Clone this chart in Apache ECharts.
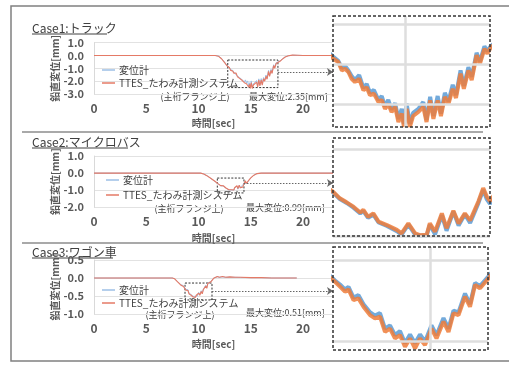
<!DOCTYPE html>
<html><head><meta charset="utf-8">
<script src="https://cdn.jsdelivr.net/npm/echarts@6/dist/echarts.min.js"></script>
<style>html,body{margin:0;padding:0;background:#fff}#c{width:509px;height:365px}</style>
</head><body><div id="c"></div>
<script>
// ---------- data ----------
const caseTitles = ['Case1:トラック', 'Case2:マイクロバス', 'Case3:ワゴン車'];
const seriesNames = ['変位計', 'TTES_たわみ計測システム'];
const maxDisp = ['2.35', '0.99', '0.51'];
const xTicks = [0, 5, 10, 15, 20];
const xEnd = 22.87;
const yTicks1 = [-3, -2, -1, 0, 1];
const yTicks2 = [-2, -1, 0, 1];
const yTicks3 = [-1, -0.5, 0, 0.5];

const case1Time = [0, 11.6, 11.9, 12.2, 12.5, 12.7, 12.81, 12.96, 13.07, 13.17, 13.27, 13.37, 13.47, 13.6, 13.73, 13.83, 13.93, 14.05, 14.19, 14.29, 14.39, 14.49, 14.59, 14.7, 14.8, 14.9, 14.97, 15.05, 15.15, 15.25, 15.41, 15.56, 15.66, 15.77, 15.87, 16.0, 16.1, 16.22, 16.33, 16.46, 16.56, 16.7, 16.8, 16.94, 17.04, 17.19, 17.29, 17.43, 17.52, 17.6, 17.8, 18.0, 18.3, 18.6, 19.0, 19.5, 20.0, 22.87];
const case1TTES = [0, 0, -0.05, -0.25, -0.55, -0.78, -0.87, -0.95, -1.16, -1.12, -1.2, -1.37, -1.45, -1.37, -1.66, -1.58, -1.78, -1.74, -1.95, -1.9, -2.12, -2.0, -2.2, -2.07, -2.45, -2.24, -2.57, -2.12, -2.57, -2.3, -2.2, -2.07, -2.45, -1.91, -2.37, -1.91, -2.3, -1.82, -2.0, -1.62, -1.85, -1.24, -1.62, -1.16, -1.4, -0.78, -1.0, -0.62, -0.74, -0.62, -0.45, -0.3, -0.12, -0.02, 0.03, 0.02, 0, 0];
const case1Disp = [0, 0, -0.04, -0.22, -0.52, -0.74, -0.82, -0.92, -1.1, -1.05, -1.16, -1.3, -1.4, -1.28, -1.6, -1.5, -1.72, -1.65, -1.9, -1.8, -2.06, -1.9, -2.14, -1.98, -2.38, -2.12, -2.5, -1.98, -2.5, -2.22, -2.12, -1.95, -2.4, -1.82, -2.3, -1.8, -2.24, -1.72, -1.94, -1.52, -1.78, -1.16, -1.55, -1.08, -1.32, -0.72, -0.94, -0.56, -0.68, -0.58, -0.42, -0.28, -0.1, -0.02, 0.02, 0.01, 0, 0];

const case2Time = [0, 10.2, 10.5, 10.8, 11.2, 11.6, 11.73, 11.86, 11.99, 12.12, 12.18, 12.27, 12.37, 12.47, 12.63, 12.82, 12.91, 13.04, 13.17, 13.26, 13.39, 13.45, 13.55, 13.68, 13.77, 13.9, 14.0, 14.12, 14.22, 14.38, 14.47, 14.54, 14.6, 14.8, 15.0, 15.3, 15.6, 16.0, 22.87];
const case2TTES = [0, 0, -0.05, -0.15, -0.32, -0.49, -0.567, -0.613, -0.663, -0.73, -0.70, -0.78, -0.74, -0.835, -0.874, -0.93, -0.97, -0.855, -0.97, -0.99, -0.985, -0.855, -0.95, -0.74, -0.91, -0.71, -0.855, -0.74, -0.82, -0.6, -0.45, -0.55, -0.6, -0.42, -0.28, -0.12, -0.03, 0, 0];
const case2Disp = [0, 0, -0.05, -0.15, -0.32, -0.5, -0.575, -0.62, -0.675, -0.74, -0.715, -0.79, -0.755, -0.845, -0.885, -0.945, -0.985, -0.87, -0.985, -0.995, -0.995, -0.87, -0.98, -0.76, -0.94, -0.72, -0.88, -0.75, -0.85, -0.62, -0.47, -0.58, -0.63, -0.44, -0.29, -0.12, -0.03, 0, 0];

const case3Time = [0, 7.5, 7.7, 7.85, 8.0, 8.09, 8.19, 8.29, 8.36, 8.46, 8.56, 8.66, 8.79, 8.89, 8.99, 9.09, 9.19, 9.29, 9.39, 9.49, 9.59, 9.69, 9.79, 9.89, 10.02, 10.12, 10.26, 10.36, 10.46, 10.56, 10.69, 10.79, 10.89, 10.99, 11.16, 11.3, 11.45, 11.6, 11.8, 12.0, 12.3, 12.6, 13.0, 13.5, 14.0, 15.0, 16.0, 17.0, 19.4];
const case3TTES = [0, 0, -0.02, -0.06, -0.11, -0.133, -0.163, -0.194, -0.18, -0.245, -0.235, -0.286, -0.337, -0.357, -0.347, -0.44, -0.42, -0.48, -0.46, -0.53, -0.48, -0.54, -0.48, -0.52, -0.42, -0.48, -0.377, -0.44, -0.326, -0.337, -0.224, -0.286, -0.153, -0.173, -0.112, -0.06, -0.01, 0.03, 0.04, 0.02, 0.04, 0.02, 0.03, 0.02, 0.02, 0.01, 0.01, 0, 0];
const case3Disp = [0, 0, -0.02, -0.055, -0.1, -0.125, -0.15, -0.18, -0.165, -0.23, -0.215, -0.27, -0.32, -0.34, -0.325, -0.42, -0.4, -0.46, -0.435, -0.51, -0.455, -0.51, -0.455, -0.5, -0.4, -0.46, -0.355, -0.42, -0.31, -0.32, -0.205, -0.27, -0.14, -0.16, -0.1, -0.05, -0.005, 0.03, 0.035, 0.02, 0.03, 0.02, 0.02, 0.02, 0.015, 0.01, 0.01, 0, 0];

// highlighted ranges [tStart, tEnd, vTop, vBottom] and arrow level
const boxes = [[12.8, 17.6, -0.35, -2.5], [11.8, 14.35, -0.29, -1.16], [8.71, 11.29, -0.14, -0.61]];
const arrowLevel = [-1.29, -0.58, -0.36];
// zoom views: [tMin, tMax, vMin, vMax]
const zoomRanges = [[12.8, 17.6, -2.575, 0.2], [11.6, 14.6, -1.0, 0.126], [8.05, 11.15, -0.5508, 0.0796]];
const zoomGridY = [[0, -1, -2], [0, -1], [0, -0.5]];
const zoomGridX = [15, null, 10];

// ---------- layout ----------
const mainGrids = [
  {left: 94, top: 42.7, width: 239, height: 51.3},
  {left: 94, top: 156, width: 239, height: 51.3},
  {left: 94, top: 260, width: 239, height: 54}
];
const zoomGrids = [
  {left: 333, top: 16, width: 157, height: 111},
  {left: 333, top: 138, width: 157, height: 98},
  {left: 333, top: 247, width: 155, height: 103}
];
const font = '"Noto Sans CJK JP", "Noto Sans", sans-serif';
const txt = '#595959';
const RED = '#e57a66', BLUE = '#9dbfe6', ZORANGE = '#ee7d3a', ZBLUE = '#5b9bd5';

const cases = [
  {time: case1Time, ttes: case1TTES, disp: case1Disp, ticks: yTicks1},
  {time: case2Time, ttes: case2TTES, disp: case2Disp, ticks: yTicks2},
  {time: case3Time, ttes: case3TTES, disp: case3Disp, ticks: yTicks3}
];
const zip = (t, v) => t.map((x, i) => [x, v[i]]);

const grid = [], xAxis = [], yAxis = [], series = [], legend = [];
const legendPos = [{left: 102, top: 64, gap: 1}, {left: 106, top: 174, gap: 3}, {left: 102, top: 284, gap: 1}];
const nameGapX = [24, 26, 25];

cases.forEach((c, i) => {
  grid.push(mainGrids[i]);
  const tickStep = c.ticks[1] - c.ticks[0];
  xAxis.push({
    gridIndex: i, type: 'value', min: xTicks[0], max: xEnd, interval: xTicks[1] - xTicks[0],
    axisLine: {show: false}, axisTick: {show: false}, splitLine: {show: false},
    axisLabel: {showMaxLabel: false, margin: 8, color: txt, fontSize: 12, fontWeight: 'bold', fontFamily: font,
      formatter: v => (xTicks.indexOf(v) >= 0 ? String(v) : '')},
    name: '時間[sec]', nameLocation: 'middle', nameGap: nameGapX[i], nameMoveOverlap: false,
    nameTextStyle: {color: txt, fontSize: 10, fontWeight: 'bold', fontFamily: font}
  });
  yAxis.push({
    gridIndex: i, type: 'value', min: c.ticks[0], max: c.ticks[c.ticks.length - 1], interval: tickStep,
    axisLine: {show: true, lineStyle: {color: '#d9d9d9'}}, axisTick: {show: false},
    splitLine: {show: true, lineStyle: {color: '#e2e2e2'}},
    axisLabel: {margin: 10, color: txt, fontSize: 11, fontWeight: 'bold', fontFamily: font, formatter: v => v.toFixed(1)},
    name: '鉛直変位[mm]', nameLocation: 'middle', nameGap: 34, nameRotate: 90, nameMoveOverlap: false,
    nameTextStyle: {color: txt, fontSize: 10, fontWeight: 'bold', fontFamily: font}
  });
});
cases.forEach((c, i) => {
  grid.push(zoomGrids[i]);
  const z = zoomRanges[i];
  xAxis.push({gridIndex: 3 + i, type: 'value', min: z[0], max: z[1], show: false});
  yAxis.push({gridIndex: 3 + i, type: 'value', min: z[2], max: z[3], show: false});
});

cases.forEach((c, i) => {
  series.push({name: seriesNames[0], type: 'line', xAxisIndex: i, yAxisIndex: i, data: zip(c.time, c.disp),
    showSymbol: false, symbol: 'none', color: BLUE, lineStyle: {width: 1, color: BLUE}, z: 2});
  series.push({name: seriesNames[1], type: 'line', xAxisIndex: i, yAxisIndex: i, data: zip(c.time, c.ttes),
    showSymbol: false, symbol: 'none', color: RED, lineStyle: {width: 1.1, color: RED}, z: 3});
  const b = boxes[i];
  series.push({type: 'line', xAxisIndex: i, yAxisIndex: i, data: [[b[0], b[2]]], symbol: 'none', lineStyle: {width: 0}, z: 6,
    markArea: {silent: true, itemStyle: {color: 'rgba(0,0,0,0)', borderColor: '#333', borderWidth: 1, borderType: [2, 1.5]},
      data: [[{coord: [b[0], b[2]]}, {coord: [b[1], b[3]]}]]},
    markLine: {silent: true, symbol: ['none', 'arrow'], symbolSize: 6, label: {show: false},
      lineStyle: {type: [1.5, 1.5], color: '#666', width: 1},
      data: [[{coord: [b[1], arrowLevel[i]]}, {coord: [xEnd, arrowLevel[i]]}]]}
  });
  // zoom view
  const gl = zoomGridY[i].map(v => ({yAxis: v}));
  if (zoomGridX[i] !== null) gl.push({xAxis: zoomGridX[i]});
  const z = zoomRanges[i];
  series.push({type: 'line', xAxisIndex: 3 + i, yAxisIndex: 3 + i, data: [[z[0], z[2]]], symbol: 'none', lineStyle: {width: 0}, z: 1,
    markLine: {silent: true, symbol: 'none', label: {show: false}, lineStyle: {type: 'solid', color: '#dedede', width: 2.5}, data: gl}});
  series.push({type: 'line', xAxisIndex: 3 + i, yAxisIndex: 3 + i, data: zip(c.time, c.disp),
    showSymbol: false, symbol: 'none', lineStyle: {width: 4, color: ZBLUE, opacity: 0.85}, z: 2});
  series.push({type: 'line', xAxisIndex: 3 + i, yAxisIndex: 3 + i, data: zip(c.time, c.ttes),
    showSymbol: false, symbol: 'none', lineStyle: {width: 4, color: ZORANGE, opacity: 0.85}, z: 3});

  const lp = legendPos[i];
  legend.push({data: seriesNames, left: lp.left, top: lp.top, orient: 'vertical', icon: 'rect', itemWidth: 13, itemHeight: 1.5,
    itemGap: lp.gap, selectedMode: false, padding: 0,
    textStyle: {fontSize: 10, color: '#404040', fontFamily: font, lineHeight: 12, padding: [0, 0, 0, -1]}});
});

// ---------- decorations ----------
const titleY = [28, 142, 252];
const titleW = [75, 96, 81];
const noteX = [195, 189, 180], noteY = [97, 209, 315];
const maxX = [249, 246, 246], maxY = [97, 208, 313];
const graphic = [
  {type: 'rect', shape: {x: 11, y: 6, width: 520, height: 355}, style: {fill: 'none', stroke: '#808080', lineWidth: 1.5}, z: 0},
  {type: 'line', shape: {x1: 22, y1: 132, x2: 483, y2: 132}, style: {stroke: '#8c8c8c', lineWidth: 1.5}},
  {type: 'line', shape: {x1: 22, y1: 243, x2: 483, y2: 243}, style: {stroke: '#8c8c8c', lineWidth: 1.5}}
];
caseTitles.forEach((t, i) => {
  graphic.push({type: 'text', style: {text: t, x: 32, y: titleY[i], fill: '#404040', font: '12px ' + font, verticalAlign: 'middle'}});
  graphic.push({type: 'line', shape: {x1: 32, y1: titleY[i] + 6, x2: 32 + titleW[i], y2: titleY[i] + 6}, style: {stroke: '#404040', lineWidth: 1}});
  graphic.push({type: 'text', style: {text: '(主桁フランジ上)', x: noteX[i], y: noteY[i], fill: '#404040', font: '9px ' + font, align: 'center', verticalAlign: 'middle'}});
  graphic.push({type: 'text', style: {text: '最大変位:' + maxDisp[i] + '[mm]', x: maxX[i], y: maxY[i], fill: '#404040', font: '9px ' + font, verticalAlign: 'middle'}});
  const g = zoomGrids[i];
  graphic.push({type: 'rect', shape: {x: g.left, y: g.top, width: g.width, height: g.height},
    style: {fill: 'none', stroke: '#333', lineWidth: 1.5, lineDash: [3, 2]}, z: 100});
});

const chart = echarts.init(document.getElementById('c'), null, {renderer: 'canvas'});
chart.setOption({animation: false, backgroundColor: '#fff', grid, xAxis, yAxis, series, legend, graphic});
</script></body></html>
